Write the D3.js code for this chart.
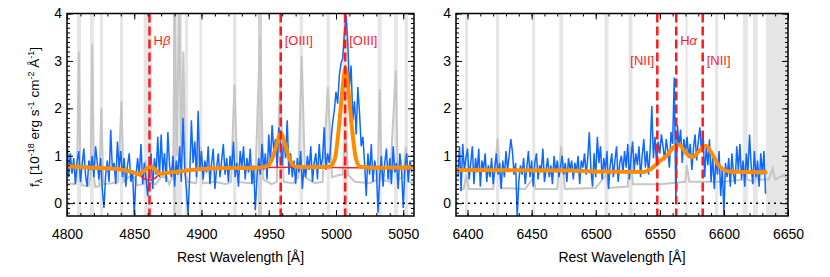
<!DOCTYPE html>
<html lang="en">
<head>
  <meta charset="UTF-8" />
  <script src="https://d3js.org/d3.v7.min.js"></script>
  <title>Spectrum</title>
  <style>
    body { margin: 0; background: #fff; }
    text { font-family: "Liberation Sans", Arial, Helvetica, sans-serif; }
  </style>
</head>
<body>
<script type="text/javascript">
// observed flux, sampled every 1.25 A
var leftStart = 4800, rightStart = 6392.5, step = 1.25;

var leftFlux = [
  1.42, 0.55, 1.05, 0.62, 0.95, 0.40, 0.88, 1.10,
  0.45, 0.80, 1.15, 0.60, 0.35, 0.90, 0.70, 1.00,
  0.55, 1.20, 0.85, 0.50, 0.95, 0.30, -0.10, 0.60,
  0.90, 0.45, 1.55, 0.70, 0.85, 0.40, 1.30, 0.75,
  1.10, 0.55, 0.95, 0.35, 0.80, 1.05, 0.45, 0.70,
  -0.25, 0.55, 0.95, 0.60, 1.25, 0.40, 0.85, 0.50,
  0.15, 0.70, 1.05, 0.30, 0.95, 0.60, 1.40, 0.55,
  1.45, 0.65, 1.05, 0.45, 1.50, 0.80, 0.55, 1.00,
  0.35, 0.90, 0.60, 1.20, 0.45, 1.80, 0.75, 0.30,
  -0.25, 0.60, 1.75, 0.85, 1.30, 0.55, 1.95, 0.70,
  1.10, 0.50, 0.90, 0.65, 1.20, 0.40, 0.85, 1.15,
  0.30, 0.75, 1.05, 0.55, 0.90, 1.25, 0.60, 0.95,
  0.45, 1.00, 0.70, 1.30, 0.55, 0.85, 0.35, 1.10,
  0.75, 1.20, 0.50, 0.95, 0.65, 1.15, 0.40, 0.80,
  -0.15, 0.55, 0.95, 0.60, 1.25, 0.70, 1.05, 0.50,
  1.45, 0.85, 1.65, 1.10, 1.35, 0.75, 1.60, 1.20,
  0.80, 1.40, 0.95, 1.75, 0.60, 1.05, 0.55, 0.90,
  0.40, 0.95, 0.65, 1.10, 0.30, 0.80, 0.55, 1.00,
  0.70, 1.20, 0.45, 0.85, 1.05, 0.50, 1.25, 0.75,
  0.95, 1.60, 0.70, 1.05, 0.85, 1.30, 1.70, 1.95,
  2.35, 2.10, 2.70, 2.95, 3.05, 3.60, 3.95, 3.40,
  2.45, 2.90, 1.75, 2.15, 1.45, 2.45, 1.90, 1.20,
  1.40, 0.85, 0.15, 1.05, 0.60, 1.25, 0.45, 0.90,
  0.70, -0.20, 0.55, 1.00, 0.35, 0.85, 1.15, 0.50,
  0.95, 0.40, 1.20, 0.65, 0.85, 0.30, 1.05, 0.70,
  -0.10, 0.75, 1.05, 0.45, 0.90, 0.65
];

var rightFlux = [
  0.55, 1.20, 0.25, 1.25, 0.70, 0.95, 1.15, 0.50,
  0.85, 1.20, 0.40, 0.95, 0.65, 1.15, 0.35, 0.90,
  0.70, 1.05, 0.45, 0.80, 0.55, 0.95, 0.40, 0.75,
  1.05, 0.60, 0.85, 0.30, 0.90, 0.55, 1.10, 0.70,
  1.00, 1.35, 1.10, 0.60, 0.85, -0.30, 0.45, 0.80,
  0.60, 0.95, 0.40, 0.75, 1.10, 0.55, 0.90, 0.35,
  0.85, 1.05, 0.50, 0.80, 0.65, 1.15, 0.45, 0.70,
  0.95, 0.55, 0.80, 0.40, 1.00, 0.65, 0.90, 0.55,
  0.75, 1.00, 0.60, 0.85, 0.45, 0.95, 0.70, 0.90,
  0.50, 0.85, 0.65, 1.00, 0.40, 0.90, 0.75, 1.05,
  0.60, 0.95, 1.50, 0.70, 0.35, 1.05, 0.55, 1.40,
  0.85, 1.20, 0.50, 0.95, 0.70, 1.10, 0.30, 0.80,
  1.05, 0.55, 0.90, 1.20, 0.45, 0.85, 1.00, 0.65,
  1.10, 0.75, 1.25, 0.50, 0.95, 1.30, 0.70, 1.05,
  0.80, 1.20, 0.55, 1.00, 1.35, 0.75, 1.10, 0.60,
  1.15, 2.05, 0.95, 1.40, 0.80, 1.30, 1.05, 1.45,
  1.20, 0.90, 1.35, 1.10, 0.75, 1.50, 1.25, 2.65,
  0.05, 1.65, 1.20, 1.55, 0.85, 1.35, 1.05, 1.40,
  0.95, 1.25, 0.70, 1.15, 1.45, 0.90, 1.30, 1.60,
  1.10, 1.50, 0.55, 1.20, 0.80, 1.35, 0.45, 1.00,
  0.30, 0.95, 0.60, 1.10, 0.15, 0.75, -0.25, 0.85,
  0.55, 0.95, 0.35, 1.05, 0.60, 0.40, 1.20, 0.70,
  1.25, 0.50, 0.90, 0.35, 1.05, 0.65, 1.45, 0.80,
  0.40, 1.10, 0.55, 0.90, 0.35, 1.05, 0.60, 1.10,
  0.20
];

// sky spectrum [wavelength, flux]
var leftSky = [
  [4800,0.42],[4806,0.40],[4807.5,0.6],[4808.8,3.2],[4810,0.6],[4811,0.38],[4816,0.36],
  [4817.5,0.55],[4818.8,3.35],[4820,0.55],[4821,0.34],[4824,0.36],[4825.5,2.0],[4827,0.4],
  [4833,0.42],[4838,0.45],[4840.5,2.15],[4842,0.45],[4846,0.55],[4850,0.55],[4852,0.38],
  [4857,0.4],[4858.3,0.9],[4860,0.45],[4866,0.4],[4870,0.55],[4874,0.55],[4876,0.4],
  [4879,0.6],[4880,4.3],[4881.5,1.0],[4883.5,4.3],[4885,0.9],[4886.5,3.2],[4888,0.6],
  [4890,0.45],[4896,0.42],[4899,1.2],[4901,0.42],[4910,0.45],[4918,0.4],[4922,0.45],
  [4924.5,2.5],[4927,0.45],[4935,0.42],[4940,0.45],[4943.5,3.5],[4946,0.5],[4952,0.4],
  [4956,0.45],[4958.5,2.6],[4961,0.45],[4968,0.42],[4972,0.55],[4974.5,3.1],[4977,0.55],
  [4984,0.42],[4990,0.45],[4994,2.45],[4997,0.55],[5003,0.6],[5005,0.6],[5007,1.5],
  [5009,0.6],[5014,0.45],[5025,0.42],[5031,0.5],[5032.5,2.4],[5034,0.5],[5040,0.45],
  [5044.5,2.8],[5046,0.5],[5050,0.55],[5052,1.2],[5054,0.45],[5058,0.42]
];
var rightSky = [
  [6391,0.3],[6397,0.3],[6399,0.6],[6401,0.3],[6420,0.3],[6423.5,1.37],[6426,0.32],
  [6445,0.3],[6451.5,0.55],[6453,0.3],[6470,0.3],[6473,1.2],[6476,0.3],[6500,0.32],
  [6508,0.6],[6510,0.32],[6525,0.35],[6527,1.2],[6529,0.4],[6550,0.4],[6570,0.45],
  [6571,0.8],[6573,0.45],[6600,0.45],[6616,0.5],[6617,0.8],[6618,0.5],[6624,0.45],
  [6625,0.7],[6626,0.5],[6635,0.5],[6638,0.73],[6640,0.5],[6647,0.6],[6650,0.5]
];

// fitted model and continuum
var leftModel = [
  [4800,0.78],[4820,0.75],[4840,0.71],[4849,0.65],[4853.5,0.61],[4858,0.70],[4862.5,0.78],
  [4866,0.70],[4869.5,0.62],[4875,0.64],[4880,0.66],[4900,0.72],[4920,0.74],[4940,0.74],
  [4948,0.77],[4952,0.90],[4955,1.15],[4959,1.47],[4963,1.15],[4966,0.90],[4970,0.77],
  [4980,0.76],[4995,0.77],[4999,0.92],[5002,1.55],[5005,2.45],[5007,2.85],[5009,2.45],
  [5012,1.55],[5015,0.92],[5018,0.77],[5030,0.75],[5058,0.76]
];
var leftCont = [
  [4800,0.78],[4840,0.71],[4849,0.65],[4855,0.57],[4858,0.51],[4861.3,0.49],[4865,0.52],
  [4868,0.59],[4872,0.63],[4880,0.66],[4900,0.72],[4940,0.755],[4980,0.76],[5020,0.745],
  [5058,0.76]
];
var rightModel = [
  [6391,0.70],[6480,0.69],[6500,0.67],[6537,0.66],[6543,0.72],[6550,0.89],[6556,1.02],
  [6560,1.16],[6565,1.23],[6570,1.07],[6575.5,0.97],[6580,1.08],[6586,1.21],[6591,1.03],
  [6596,0.80],[6604,0.67],[6615,0.66],[6632.5,0.65]
];

// masked sky bands [from, to, dark]
var leftBands = [
  [4807.4,4810.4,0],[4817,4820,0],[4824.5,4826.8,0],[4839.4,4841.6,0],[4857,4863,0],
  [4878.8,4881,1],[4881,4885.5,0],[4887.7,4890,0],[4898.5,4900.5,0],[4923.5,4926,0],
  [4942,4945,1],[4957.6,4960,0],[4973,4975.5,0],[4993,4995.5,0],[5005,5009,0],
  [5031,5034,0],[5043,5046,0],[5051,5053.5,0]
];
var rightBands = [
  [6398,6400.4,0],[6422.3,6424.6,0],[6450.5,6452.8,0],[6471.6,6474.7,0],[6506.8,6510,0],
  [6525.6,6528.7,0],[6570,6571.7,0],[6593,6595.5,0],[6614.8,6618.7,0],[6622.6,6626.5,0],
  [6632.8,6650,0]
];

// emission lines [wavelength, name, greek, label dx, label y]
var leftLines = [[4861.33,"H","\u03b2",4,45],[4958.91,"[OIII]","",4,45],[5006.84,"[OIII]","",4,45]];
var rightLines = [[6548.05,"[NII]","",-27,65],[6562.8,"H","\u03b1",4,45],[6583.45,"[NII]","",4,65]];

var leftTicks = [4800, 4850, 4900, 4950, 5000, 5050];
var rightTicks = [6400, 6450, 6500, 6550, 6600, 6650];
var yTicks = [0, 1, 2, 3, 4];

var width = 830, height = 277;
var top0 = 13.5, bot0 = 216;
var svg = d3.select("body").append("svg").attr("width", width).attr("height", height);

function panel(p) {
  var x = d3.scaleLinear().domain(p.xdom).range([p.x0, p.x1]);
  var y = d3.scaleLinear().domain([-0.27, 4.0]).range([bot0, top0]);
  var g = svg.append("g");

  g.append("clipPath").attr("id", p.id).append("rect")
    .attr("x", p.x0).attr("y", top0).attr("width", p.x1 - p.x0).attr("height", bot0 - top0);
  var pg = g.append("g").attr("clip-path", "url(#" + p.id + ")");

  pg.selectAll(".band").data(p.bands).enter().append("rect")
    .attr("x", function(d){ return x(d[0]); })
    .attr("width", function(d){ return x(d[1]) - x(d[0]); })
    .attr("y", top0).attr("height", bot0 - top0)
    .attr("fill", function(d){ return d[2] ? "#d2d2d2" : "#e6e6e6"; });

  var line = d3.line().x(function(d){ return x(d[0]); }).y(function(d){ return y(d[1]); });
  var smooth = d3.line().curve(d3.curveMonotoneX).x(function(d){ return x(d[0]); }).y(function(d){ return y(d[1]); });

  pg.append("path").datum(p.sky).attr("d", line)
    .attr("fill", "none").attr("stroke", "#c6c6c6").attr("stroke-width", 2);

  var obs = p.flux.map(function(f, i){ return [p.start + i * step, f]; });
  pg.append("path").datum(obs).attr("d", line)
    .attr("fill", "none").attr("stroke", "#0f68ff").attr("stroke-width", 1.5);

  if (p.cont) {
    pg.append("path").datum(p.cont).attr("d", smooth)
      .attr("fill", "none").attr("stroke", "#ff1e1e").attr("stroke-width", 1.5);
  }
  pg.append("path").datum(p.model).attr("d", smooth)
    .attr("fill", "none").attr("stroke", "#ff8c00").attr("stroke-width", 4)
    .attr("stroke-linecap", "round");

  pg.selectAll(".em").data(p.lines).enter().append("line")
    .attr("x1", function(d){ return x(d[0]); }).attr("x2", function(d){ return x(d[0]); })
    .attr("y1", top0).attr("y2", bot0)
    .attr("stroke", "#ff1a1a").attr("stroke-width", 2.5).attr("stroke-dasharray", "9,4");

  var lab = g.selectAll(".lab").data(p.lines).enter().append("text")
    .attr("x", function(d){ return x(d[0]) + d[3]; }).attr("y", function(d){ return d[4]; })
    .attr("fill", "#ff1a1a").attr("font-size", 13).text(function(d){ return d[1]; });
  lab.filter(function(d){ return d[2]; }).append("tspan")
    .attr("font-style", "italic").text(function(d){ return d[2]; });

  g.append("line").attr("x1", p.x0).attr("x2", p.x1).attr("y1", y(0)).attr("y2", y(0))
    .attr("stroke", "#000").attr("stroke-width", 1.5).attr("stroke-dasharray", "2,4");

  // ticks on all four sides, pointing inward
  var minorX = d3.range(Math.ceil(p.xdom[0] / 10) * 10, p.xdom[1] + 0.1, 10);
  var minorY = d3.range(-2, 41).map(function(v){ return v / 10; });
  function ax(gen, tr, vals, size, labels, pad) {
    var a = gen.tickValues(vals).tickSize(size).tickPadding(pad || 3);
    a.tickFormat(labels ? d3.format("d") : "");
    var s = g.append("g").attr("transform", tr).call(a);
    s.select(".domain").remove();
    s.selectAll("line").attr("stroke", "#000").attr("stroke-width", 1);
    s.selectAll("text").attr("font-size", 14).attr("fill", "#000")
      .attr("font-family", "'Liberation Sans', Arial, sans-serif");
    return s;
  }
  ax(d3.axisBottom(x), "translate(0," + bot0 + ")", minorX, -3, false);
  ax(d3.axisBottom(x), "translate(0," + bot0 + ")", p.ticks, -6, true, 13);
  ax(d3.axisTop(x), "translate(0," + top0 + ")", minorX, -3, false);
  ax(d3.axisTop(x), "translate(0," + top0 + ")", p.ticks, -6, false);
  ax(d3.axisLeft(y), "translate(" + p.x0 + ",0)", minorY, -3, false);
  ax(d3.axisLeft(y), "translate(" + p.x0 + ",0)", yTicks, -6, true, 5);
  ax(d3.axisRight(y), "translate(" + p.x1 + ",0)", minorY, -3, false);
  ax(d3.axisRight(y), "translate(" + p.x1 + ",0)", yTicks, -6, false);

  g.append("rect").attr("x", p.x0).attr("y", top0).attr("width", p.x1 - p.x0).attr("height", bot0 - top0)
    .attr("fill", "none").attr("stroke", "#000").attr("stroke-width", 1.5);

  g.append("text").attr("x", (p.x0 + p.x1) / 2).attr("y", 262).attr("text-anchor", "middle")
    .attr("font-size", 14).text("Rest Wavelength [\u00c5]");
}

panel({id: "cl", x0: 67, x1: 414, xdom: [4800, 5058], start: leftStart, flux: leftFlux, sky: leftSky,
  model: leftModel, cont: leftCont, bands: leftBands, lines: leftLines, ticks: leftTicks});
panel({id: "cr", x0: 456, x1: 788, xdom: [6391, 6650], start: rightStart, flux: rightFlux, sky: rightSky,
  model: rightModel, cont: null, bands: rightBands, lines: rightLines, ticks: rightTicks});

// y axis title
var yt = svg.append("text").attr("transform", "translate(39,117) rotate(-90)")
  .attr("text-anchor", "middle").attr("font-size", 13.5);
yt.append("tspan").text("f");
yt.append("tspan").attr("font-size", 9).attr("dy", 3).text("\u03bb");
yt.append("tspan").attr("dy", -3).text(" [10");
yt.append("tspan").attr("font-size", 9).attr("dy", -5).text("-18");
yt.append("tspan").attr("dy", 5).text(" erg s");
yt.append("tspan").attr("font-size", 9).attr("dy", -5).text("-1");
yt.append("tspan").attr("dy", 5).text(" cm");
yt.append("tspan").attr("font-size", 9).attr("dy", -5).text("-2");
yt.append("tspan").attr("dy", 5).text(" \u00c5");
yt.append("tspan").attr("font-size", 9).attr("dy", -5).text("-1");
yt.append("tspan").attr("dy", 5).text("]");
</script>
</body>
</html>
